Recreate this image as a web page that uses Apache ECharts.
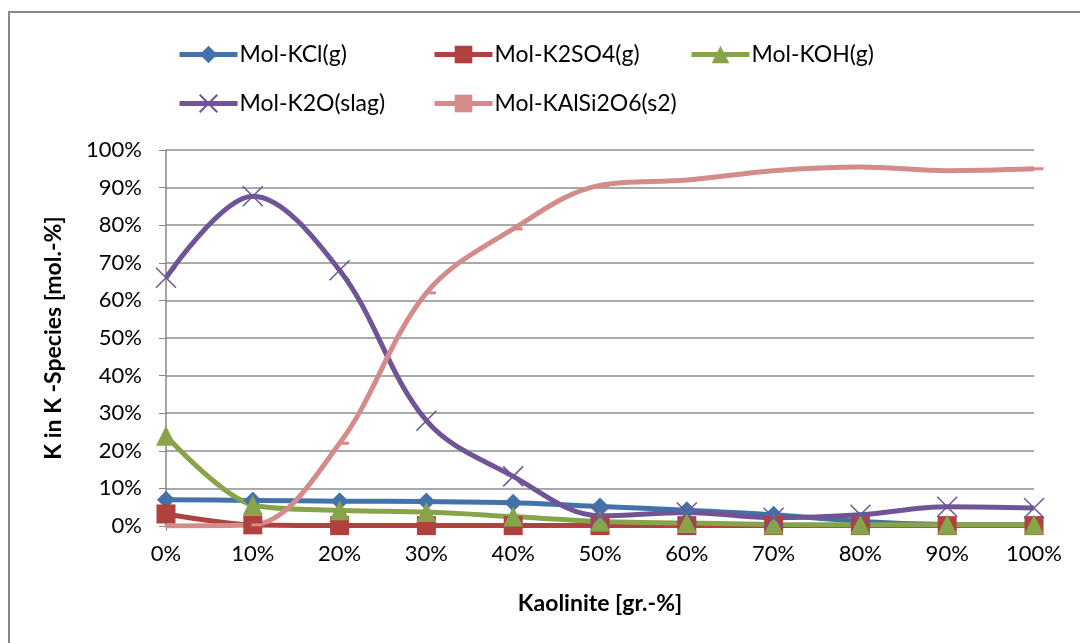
<!DOCTYPE html>
<html>
<head>
<meta charset="utf-8">
<script src="https://cdn.jsdelivr.net/npm/echarts@6/dist/echarts.min.js"></script>
<style>
  html, body { margin: 0; padding: 0; background: #fff; }
  #chart { width: 1080px; height: 643px; }
</style>
</head>
<body>
<div id="chart"></div>
<script>
// kaolinite share (x categories)
var categories = ['0%', '10%', '20%', '30%', '40%', '50%', '60%', '70%', '80%', '90%', '100%'];

// K in K-species, mol.-%
var kcl      = [7.0, 6.8, 6.6, 6.5, 6.2, 5.2, 4.2, 3.0, 1.2, 0.4, 0.3];
var k2so4    = [3.2, 0.3, 0.1, 0.1, 0.1, 0.1, 0.1, 0.1, 0.1, 0.1, 0.1];
var koh      = [24.0, 5.6, 4.2, 3.7, 2.5, 1.2, 0.8, 0.4, 0.3, 0.3, 0.3];
var k2o      = [66.0, 87.7, 68.0, 28.0, 13.2, 2.7, 3.6, 2.2, 3.0, 5.1, 4.8];
var kalsi2o6 = [0.0, 0.3, 22.0, 62.0, 79.0, 90.6, 92.0, 94.5, 95.5, 94.5, 95.0];

var yTicks = [0, 10, 20, 30, 40, 50, 60, 70, 80, 90, 100];

var names = ['Mol-KCl(g)', 'Mol-K2SO4(g)', 'Mol-KOH(g)', 'Mol-K2O(slag)', 'Mol-KAlSi2O6(s2)'];
var colors = ['#4372aa', '#b0413e', '#87a44a', '#6f5496', '#d48c8a'];

var font = 'Lato';
var crossPath = 'path://M0,0L10,10M10,0L0,10';

function legendAt(name, left, top) {
  return {
    data: [name],
    left: left,
    top: top,
    itemWidth: 58,
    itemHeight: 22,
    itemGap: 0,
    lineStyle: { width: 5 },
    textStyle: { fontFamily: font, fontSize: 23, color: '#000', padding: [0, 0, 0, -3] }
  };
}

var chart = echarts.init(document.getElementById('chart'));

var option = {
  animation: false,
  color: colors,
  graphic: [{
    type: 'rect',
    shape: { x: 9, y: 12, width: 1100, height: 700 },
    style: { fill: 'none', stroke: '#888', lineWidth: 2 },
    silent: true
  }],
  legend: [
    legendAt(names[0], 172, 38),
    legendAt(names[1], 427, 38),
    legendAt(names[2], 684, 38),
    legendAt(names[3], 172, 87),
    legendAt(names[4], 427, 87)
  ],
  grid: { left: 166, right: 46, top: 150, bottom: 117 },
  xAxis: {
    type: 'category',
    data: categories,
    boundaryGap: false,
    name: 'Kaolinite [gr.-%]',
    nameLocation: 'middle',
    nameGap: 66,
    nameTextStyle: { fontFamily: font, fontSize: 23, fontWeight: 'bold', color: '#000' },
    axisLine: { lineStyle: { color: '#868686', width: 1.5 } },
    axisTick: { show: true, length: 5, lineStyle: { color: '#868686' } },
    axisLabel: { fontFamily: font, fontSize: 22, color: '#000', margin: 17 }
  },
  yAxis: {
    type: 'value',
    min: 0,
    max: 100,
    interval: 10,
    name: 'K in K -Species [mol.-%]',
    nameLocation: 'middle',
    nameGap: 101,
    nameTextStyle: { fontFamily: font, fontSize: 23, fontWeight: 'bold', color: '#000' },
    axisLine: { show: true, lineStyle: { color: '#868686', width: 1.5 } },
    axisTick: { show: true, length: 7, lineStyle: { color: '#868686' } },
    axisLabel: {
      fontFamily: font, fontSize: 22, color: '#000', margin: 24,
      formatter: function (v) { return yTicks.indexOf(v) >= 0 ? v + '%' : ''; }
    },
    splitLine: { lineStyle: { color: '#8c8c8c', width: 1.5 } }
  },
  series: [
    {
      name: names[0], type: 'line', data: kcl, smooth: 0.3,
      symbol: 'diamond', symbolSize: 18,
      lineStyle: { width: 5, color: colors[0] },
      itemStyle: { color: colors[0] }
    },
    {
      name: names[1], type: 'line', data: k2so4, smooth: 0.3,
      symbol: 'rect', symbolSize: 19,
      lineStyle: { width: 5, color: colors[1] },
      itemStyle: { color: colors[1] }
    },
    {
      name: names[2], type: 'line', data: koh, smooth: 0.3,
      symbol: 'triangle', symbolSize: 20,
      lineStyle: { width: 5, color: colors[2] },
      itemStyle: { color: colors[2] }
    },
    {
      name: names[3], type: 'line', data: k2o, smooth: 0.35,
      symbol: crossPath, symbolSize: 20,
      lineStyle: { width: 5, color: colors[3] },
      itemStyle: { color: colors[3], borderColor: colors[3], borderWidth: 1.5 }
    },
    {
      name: names[4], type: 'line', data: kalsi2o6, smooth: 0.35,
      symbol: 'rect', symbolSize: [11, 3], symbolOffset: [4, 0],
      lineStyle: { width: 5, color: colors[4] },
      itemStyle: { color: colors[4] }
    }
  ]
};

chart.setOption(option);
</script>
</body>
</html>
